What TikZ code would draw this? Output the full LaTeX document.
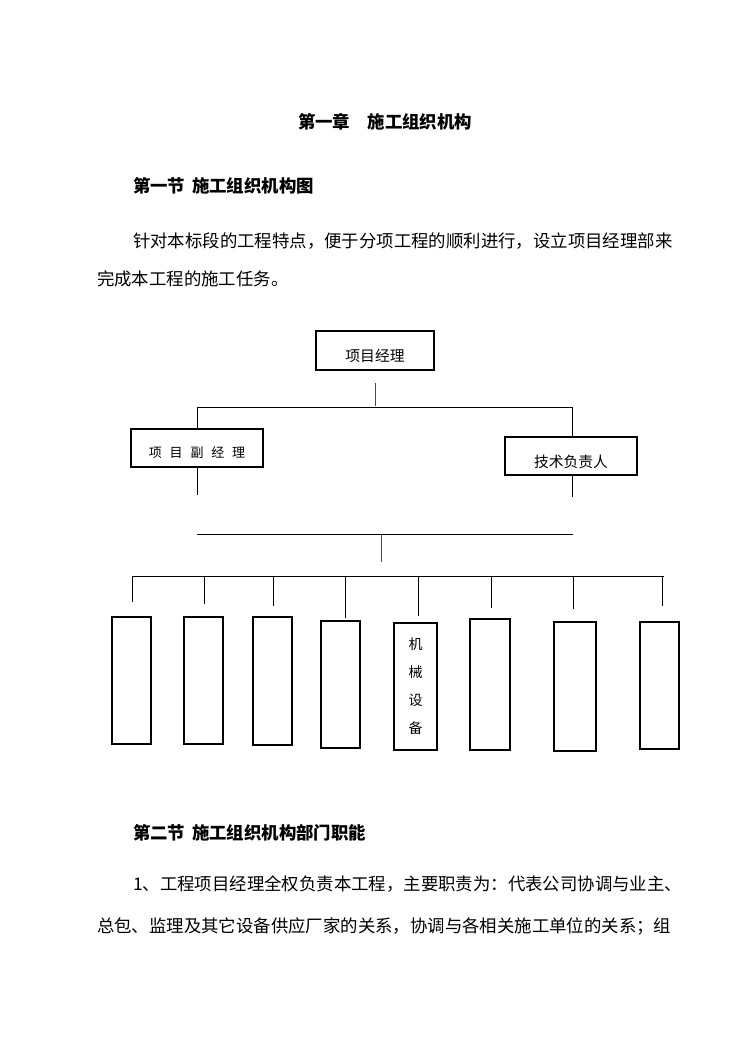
\documentclass[tikz,border=0pt]{standalone}
\usepackage{fontspec}
\setmainfont{Noto Sans CJK SC}
\begin{document}
\begin{tikzpicture}[x=1pt,y=-1pt,
  every node/.style={inner sep=0pt,outer sep=0pt},
  body/.style={font=\fontsize{17.4}{20}\selectfont,anchor=west},
  head/.style={font=\fontsize{17.4}{20}\selectfont\bfseries,anchor=west},
  orgbox/.style={draw,line width=1.2pt},
  orgtext/.style={font=\fontsize{14.8}{16}\selectfont},
  unitbox/.style={draw,line width=1.2pt,minimum width=39pt,minimum height=127pt,font=\fontsize{14}{28}\selectfont,align=center},
  link/.style={line width=1pt},
  thinlink/.style={line width=0.9pt,draw=black!70}]
\path[fill=white] (0,0) rectangle (744,1052);
\useasboundingbox (0,0) rectangle (744,1052);
% texts
\node[font=\fontsize{17.4}{20}\selectfont\bfseries] (title) at (385,122) {第一章　施工组织机构};
\node[head] (h1) at (133,186) {第一节\hspace{0.4em}施工组织机构图};
\node[body] (p1) at (133,241) {针对本标段的工程特点，便于分项工程的顺利进行，设立项目经理部来};
\node[body] (p2) at (97,279) {完成本工程的施工任务。};
\node[head] (h2) at (133,833) {第二节\hspace{0.4em}施工组织机构部门职能};
\node[body] (p3) at (133,884) {1、工程项目经理全权负责本工程，主要职责为：代表公司协调与业主、};
\node[body] (p4) at (97,927) {总包、监理及其它设备供应厂家的关系，协调与各相关施工单位的关系；组};
% org boxes
\node[orgbox,minimum width=118pt,minimum height=39pt] (pm) at (375,350.5) {};
\node[orgtext] (pmt) at ([yshift=-5pt]pm.center) {项目经理};
\node[orgbox,minimum width=132pt,minimum height=38pt] (dpm) at (197,448) {};
\node[orgtext,font=\fontsize{13}{16}\selectfont] (dpmt) at ([yshift=-5pt]dpm.center) {项\hspace{0.6em}目\hspace{0.6em}副\hspace{0.6em}经\hspace{0.6em}理};
\node[orgbox,minimum width=132pt,minimum height=38pt] (tech) at (571,456) {};
\node[orgtext] (techt) at ([yshift=-6pt]tech.center) {技术负责人};
% unit boxes
\node[unitbox] (u1) at (131.5,680.5) {};
\node[unitbox] (u2) at (203.5,680.5) {};
\node[unitbox,minimum height=128pt] (u3) at (272.5,681) {};
\node[unitbox] (u4) at (340.5,684.5) {};
\node[unitbox,minimum width=43pt] (u5) at (415.5,686.5) {机\\械\\设\\备};
\node[unitbox,minimum width=40pt,minimum height=131pt] (u6) at (490,684.5) {};
\node[unitbox,minimum width=42pt,minimum height=129pt] (u7) at (575,686.5) {};
\node[unitbox] (u8) at (659.5,685.5) {};
% junction coordinates
\coordinate (a0) at (375,383);
\coordinate (a1) at (375,406);
\coordinate (bl) at (197,407);
\coordinate (br) at (572,407);
\coordinate (cl) at (197,495);
\coordinate (cr) at (572,497);
\coordinate (dl) at (197,534);
\coordinate (dr) at (573,534);
\coordinate (e0) at (381,535);
\coordinate (e1) at (381,562);
\coordinate (fl) at (132,576);
\coordinate (fr) at (664,576);
% connectors
\draw[thinlink] (a0) -- (a1);
\draw[link] (bl) -- (br);
\draw[link] (bl) -- (dpm.north -| bl);
\draw[link] (br) -- (tech.north -| br);
\draw[link] (dpm.south -| cl) -- (cl);
\draw[link] (tech.south -| cr) -- (cr);
\draw[link] (dl) -- (dr);
\draw[thinlink] (e0) -- (e1);
\draw[link] (fl) -- (fr);
\foreach \x/\y in {132/602,204/604,273/606,345/618,418/616,491/608,573/609,662/606}
  \draw[link] (\x,576) -- (\x,\y);
\end{tikzpicture}
\end{document}
